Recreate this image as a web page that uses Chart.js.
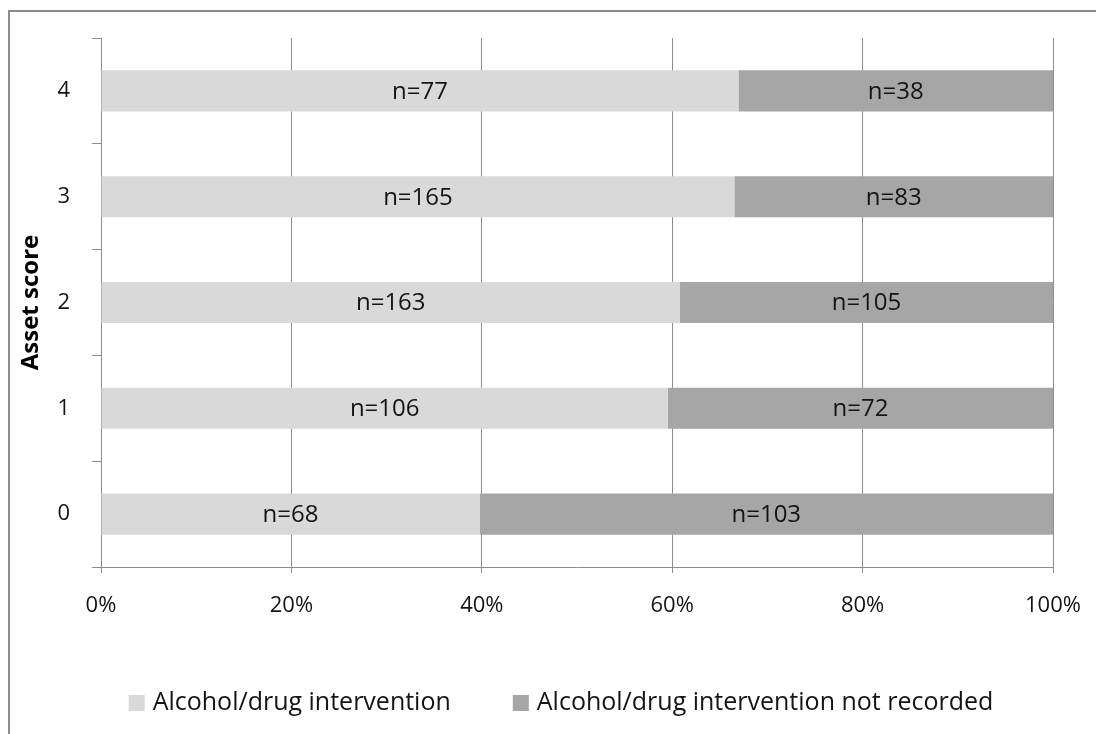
<!DOCTYPE html>
<html lang="en">
<head>
<meta charset="UTF-8">
<title>Asset score and alcohol/drug intervention</title>
<script src="https://cdn.jsdelivr.net/npm/chart.js@4.4.0/dist/chart.umd.min.js"></script>
<style>
    html, body { margin: 0; padding: 0; background: #fff; }
</style>
</head>
<body>
<canvas id="myChart" width="1096" height="734"></canvas>
<script>
    // data
    const assetScores        = ['4', '3', '2', '1', '0'];
    const interventionCounts = [77, 165, 163, 106, 68];
    const notRecordedCounts  = [38, 83, 105, 72, 103];
    const seriesNames        = ['Alcohol/drug intervention', 'Alcohol/drug intervention not recorded'];
    const percentTicks       = [0, 20, 40, 60, 80, 100];

    const fontFamily = '"Open Sans", sans-serif';
    const axisGrey   = '#8c8c8c';

    // 100% stacked: each bar is the share of its row total
    function shareOf(counts, otherCounts) {
        return counts.map((v, i) => v * 100 / (v + otherCounts[i]));
    }

    // outer frame of the chart (only left and top edges are visible)
    const framePlugin = {
        id: 'frame',
        beforeDraw(chart) {
            const c = chart.ctx;
            c.save();
            c.strokeStyle = axisGrey;
            c.lineWidth = 2;
            c.beginPath();
            c.moveTo(9, chart.height);
            c.lineTo(9, 11);
            c.lineTo(chart.width, 11);
            c.stroke();
            c.restore();
        }
    };

    // "n=.." text in the middle of each bar segment
    const countLabels = {
        id: 'countLabels',
        afterDatasetsDraw(chart) {
            const c = chart.ctx;
            c.save();
            c.font = '24px ' + fontFamily;
            c.fillStyle = '#141414';
            c.textAlign = 'center';
            c.textBaseline = 'middle';
            chart.data.datasets.forEach((ds, di) => {
                chart.getDatasetMeta(di).data.forEach((bar, i) => {
                    c.fillText('n=' + ds.counts[i], (bar.x + bar.base) / 2, bar.y + 1);
                });
            });
            c.restore();
        }
    };

    // legend row under the axis
    const bottomLegend = {
        id: 'bottomLegend',
        afterDraw(chart) {
            const c = chart.ctx;
            const box = 16, boxGap = 8, itemGap = 62, centreX = 561, y = 703;
            c.save();
            c.font = '25px ' + fontFamily;
            c.textBaseline = 'middle';
            const widths = chart.data.datasets.map(ds => box + boxGap + c.measureText(ds.label).width);
            let x = centreX - (widths.reduce((a, b) => a + b, 0) + itemGap * (widths.length - 1)) / 2;
            chart.data.datasets.forEach((ds, i) => {
                c.fillStyle = ds.backgroundColor;
                c.fillRect(x, y - box / 2, box, box);
                c.fillStyle = '#141414';
                c.fillText(ds.label, x + box + boxGap, y);
                x += widths[i] + itemGap;
            });
            c.restore();
        }
    };

    const ctx = document.getElementById('myChart').getContext('2d');
    const myChart = new Chart(ctx, {
        type: 'bar',
        data: {
            labels: assetScores,
            datasets: [{
                label: seriesNames[0],
                data: shareOf(interventionCounts, notRecordedCounts),
                counts: interventionCounts,
                backgroundColor: '#d9d9d9',
                borderWidth: 0
            }, {
                label: seriesNames[1],
                data: shareOf(notRecordedCounts, interventionCounts),
                counts: notRecordedCounts,
                backgroundColor: '#a6a6a6',
                borderWidth: 0
            }]
        },
        options: {
            responsive: false,
            animation: false,
            indexAxis: 'y',
            categoryPercentage: 1,
            barPercentage: 0.388,
            layout: { padding: { left: 8, top: 38, right: 0, bottom: 0 } },
            plugins: {
                legend: { display: false },
                tooltip: { enabled: false }
            },
            scales: {
                x: {
                    stacked: true,
                    min: 0,
                    max: 100,
                    afterBuildTicks: s => { s.ticks = percentTicks.map(v => ({ value: v })); },
                    afterFit: s => { s.height = 167; s.paddingRight = 43; },
                    grid: { color: axisGrey, tickLength: 6 },
                    border: { color: axisGrey },
                    ticks: {
                        callback: v => v + '%',
                        font: { family: fontFamily, size: 22 },
                        color: '#141414',
                        padding: 20,
                        maxRotation: 0
                    }
                },
                y: {
                    stacked: true,
                    afterFit: s => { s.width = 93; },
                    grid: { drawOnChartArea: false, tickLength: 9, color: axisGrey, offset: true },
                    border: { color: axisGrey },
                    ticks: {
                        font: { family: fontFamily, size: 22 },
                        color: '#141414',
                        padding: 22
                    },
                    title: {
                        display: true,
                        text: 'Asset score',
                        font: { family: fontFamily, size: 24, weight: 'bold' },
                        color: '#000',
                        padding: { top: 9, bottom: 0 }
                    }
                }
            }
        },
        plugins: [framePlugin, countLabels, bottomLegend]
    });
</script>
</body>
</html>
